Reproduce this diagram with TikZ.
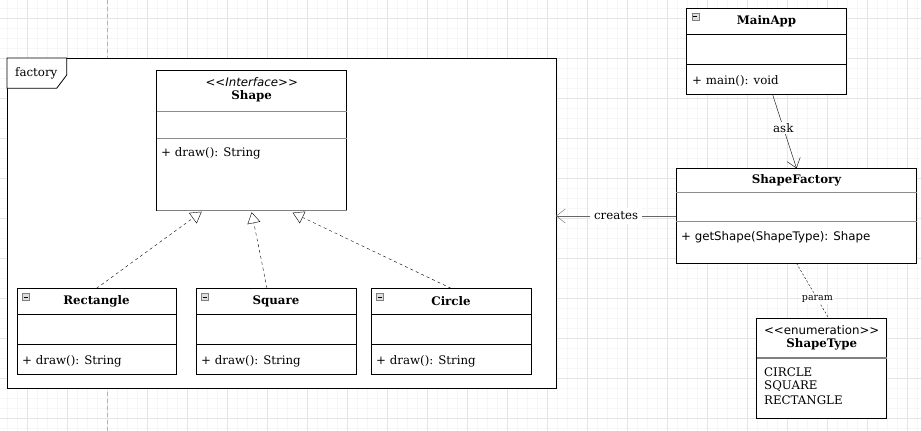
\documentclass[tikz,border=0pt]{standalone}
\usepackage{fontspec}
\setmainfont{DejaVu Serif}
\setsansfont{DejaVu Sans}
\usetikzlibrary{arrows.meta,calc}

\tikzset{
  classbox/.style={draw, thick, fill=white, anchor=north west, inner sep=0pt, outer sep=0pt},
  divider/.style={draw=black},
  softdivider/.style={draw=gray!90},
  title/.style={font=\fontsize{11.8}{14}\selectfont\bfseries, inner sep=0pt},
  member/.style={font=\fontsize{11.8}{14}\selectfont, anchor=west, inner sep=0pt},
  realize/.style={dash pattern=on 3pt off 3pt, -{Triangle[open,length=11pt,width=13pt]}},
  minusicon/.style={draw=gray, fill=gray!25, minimum size=7pt, inner sep=0pt, anchor=north west,
    path picture={\draw[black] ([xshift=1.5pt]path picture bounding box.west) -- ([xshift=-1.5pt]path picture bounding box.east);}}
}

\begin{document}
\begin{tikzpicture}[x=1pt,y=-1pt]
		\useasboundingbox (0,0) rectangle (921,431);
		\fill[white] (0,0) rectangle (921,431);
		% grid
		\foreach \gx in {6.7,16.7,...,921} \draw[gray!7] (\gx,0) -- (\gx,431);
		\foreach \gy in {8.3,18.3,...,431} \draw[gray!7] (0,\gy) -- (921,\gy);
		\foreach \gx in {26.7,66.7,...,921} \draw[gray!20] (\gx,0) -- (\gx,431);
		\foreach \gy in {18.3,58.3,...,431} \draw[gray!20] (0,\gy) -- (921,\gy);
		\draw[gray!60, dash pattern=on 4pt off 3pt] (106.7,0) -- (106.7,431);
		% package frame 7 - 556
		\node[classbox, minimum width=549pt, minimum height=330pt] (factory) at (7,58) {};
		\draw[thick, fill=white] (factory.north west) -- (66.7,58) -- (66.7,75) -- (56.7,88.3) -- (7,88.3) -- cycle;
		\node[member] (factorylbl) at (15,73.3) {factory};
		% interface Shape
		\node[classbox, minimum width=190pt, minimum height=140pt] (shape) at (156.7,70.7) {};
		\draw[softdivider] (156.7,110.7) -- (346.7,110.7);
		\draw[softdivider] (156.7,138.3) -- (346.7,138.3);
		\draw[gray, line width=1.5pt] (shape.south west) -- (shape.south east);
		\node[inner sep=0pt, font=\fontsize{11.8}{14}\sffamily\itshape] (shapestereo) at (251.7,82.5) {{<}{<}Interface{>}{>}};
		\node[title] (shapetitle) at (251.7,96.5) {Shape};
		\node[member] (shapedraw) at (161,153) {+ draw(): String};
		% Rectangle 17 - 176
		\node[classbox, minimum width=159pt, minimum height=86pt] (rect) at (17,288.3) {};
		\draw[divider] (17,314) -- (176,314);
		\draw[divider] (17,344) -- (176,344);
		\node[minusicon] (recticon) at (22,293) {};
		\node[title] (recttitle) at (96.5,301.5) {Rectangle};
		\node[member] (rectdraw) at (22,361) {+ draw(): String};
		% Square 196 - 356
		\node[classbox, minimum width=160pt, minimum height=86pt] (square) at (196,288.3) {};
		\draw[divider] (196,314) -- (356,314);
		\draw[divider] (196,344) -- (356,344);
		\node[minusicon] (squareicon) at (201,293) {};
		\node[title] (squaretitle) at (276,301.5) {Square};
		\node[member] (squaredraw) at (201,361) {+ draw(): String};
		% Circle 371 - 531
		\node[classbox, minimum width=160pt, minimum height=86pt] (circle) at (371,288.3) {};
		\draw[divider] (371,314) -- (531,314);
		\draw[divider] (371,344) -- (531,344);
		\node[minusicon] (circleicon) at (376,293) {};
		\node[title] (circletitle) at (451,301.5) {Circle};
		\node[member] (circledraw) at (376,361) {+ draw(): String};
		% MainApp
		\node[classbox, minimum width=159.6pt, minimum height=86pt] (mainapp) at (686.7,8.3) {};
		\draw[divider] (686.7,34) -- (846.3,34);
		\draw[divider] (686.7,64.3) -- (846.3,64.3);
		\node[minusicon] (mainicon) at (691.5,12.5) {};
		\node[title] (maintitle) at (766.5,21.5) {MainApp};
		\node[member] (mainmethod) at (692,81) {+ main(): void};
		% ShapeFactory
		\node[classbox, minimum width=240.4pt, minimum height=95pt] (sf) at (676.3,168.3) {};
		\draw[softdivider] (676.3,192.3) -- (916.7,192.3);
		\draw[softdivider] (676.3,221) -- (916.7,221);
		\node[title] (sftitle) at (796.5,180.5) {ShapeFactory};
		\node[member, font=\fontsize{11.8}{14}\sffamily] (sfmethod) at (681,237) {+ getShape(ShapeType): Shape};
		% enumeration ShapeType
		\node[classbox, minimum width=130pt, minimum height=100pt] (st) at (756.7,318.3) {};
		\draw[gray, line width=1.5pt] (756.7,358) -- (886.7,358);
		\node[inner sep=0pt, font=\fontsize{11.8}{14}\sffamily] (ststereo) at (821.7,330) {{<}{<}enumeration{>}{>}};
		\node[title] (sttitle) at (821.7,344) {ShapeType};
		\node[member] (stcircle) at (764,372) {CIRCLE};
		\node[member] (stsquare) at (764,386) {SQUARE};
		\node[member] (strect) at (764,400) {RECTANGLE};
		% connectors
		\draw[realize] (rect.north) -- ($(shape.south)+(-50,1)$);
		\draw[realize] ($(square.north)+(-9,0)$) -- ($(shape.south)+(0,1.5)$);
		\draw[realize] (circle.north) -- ($(shape.south)+(41,2)$);
		\draw[-{Straight Barb[length=9pt,width=14pt]}] ($(mainapp.south)+(6,0)$) -- node[fill=white, inner sep=1.5pt, font=\fontsize{11.8}{14}\selectfont, pos=0.45] (asklbl) {ask} (sf.north);
		\draw[gray!80!black, -{Straight Barb[length=9pt,width=14pt]}] ($(sf.north west)+(0,47.7)$) -- node[fill=white, text=black, inner sep=4pt, font=\fontsize{11.8}{14}\selectfont] (createslbl) {creates} (factory.east |- {$(sf.north west)+(0,47.7)$});
		\draw[dash pattern=on 2pt off 2pt] (sf.south) -- node[fill=white, inner sep=1pt, font=\fontsize{9.5}{11}\selectfont, pos=0.65] (paramlbl) {param} ($(st.north)+(7,0)$);
	\end{tikzpicture}
\end{document}
